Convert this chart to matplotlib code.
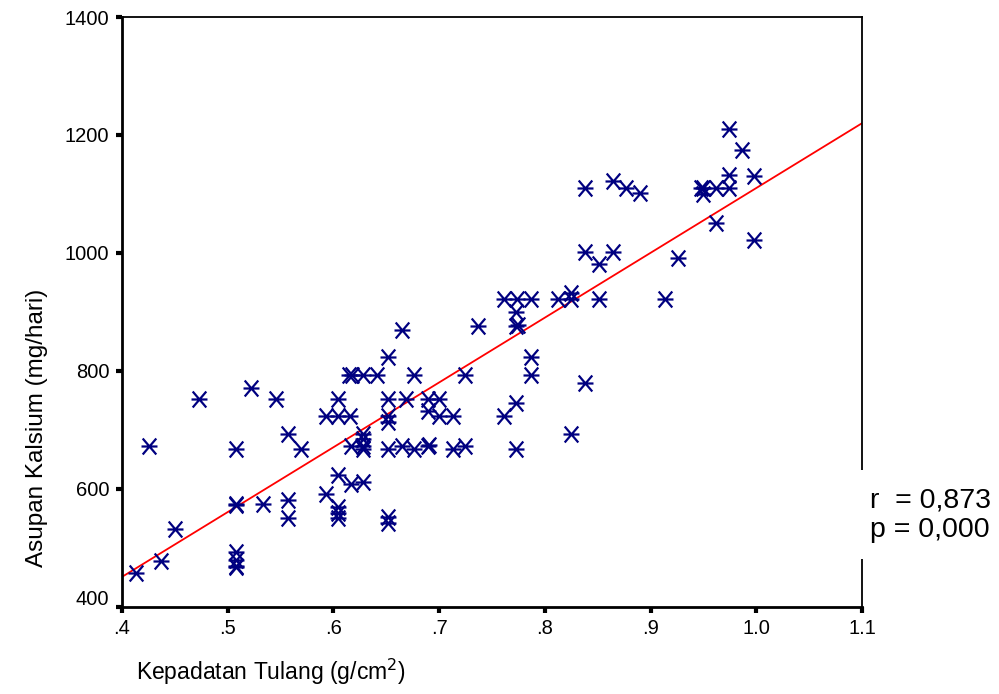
import matplotlib
matplotlib.use("Agg")
import matplotlib.pyplot as plt
from matplotlib.path import Path
from matplotlib.transforms import ScaledTranslation
import numpy as np

plt.rcParams['font.family'] = ['Liberation Sans', 'DejaVu Sans']

# data
bone_density = [
    0.413, 0.426, 0.437, 0.450, 0.473, 0.508, 0.508, 0.508, 0.508, 0.508,
    0.508, 0.508, 0.522, 0.533, 0.546, 0.557, 0.557, 0.557, 0.569, 0.593,
    0.593, 0.604, 0.604, 0.604, 0.604, 0.604, 0.604, 0.616, 0.615, 0.618,
    0.628, 0.641, 0.617, 0.617, 0.628, 0.628, 0.628, 0.628, 0.628, 0.652,
    0.652, 0.652, 0.652, 0.652, 0.652, 0.652, 0.665, 0.676, 0.724, 0.737,
    0.773, 0.773, 0.775, 0.787, 0.787, 0.838, 0.669, 0.689, 0.700, 0.689,
    0.700, 0.713, 0.761, 0.773, 0.665, 0.676, 0.689, 0.690, 0.713, 0.724,
    0.773, 0.825, 0.761, 0.774, 0.787, 0.812, 0.825, 0.825, 0.851, 0.914,
    0.926, 0.838, 0.864, 0.851, 0.838, 0.864, 0.877, 0.890, 0.950, 0.950,
    0.948, 0.962, 0.974, 0.974, 0.974, 0.986, 0.998, 0.962, 0.998,
]
calcium = [
    458, 673, 478, 532, 753, 668, 575, 572, 494, 480,
    470, 467, 771, 575, 753, 694, 582, 550, 667, 592,
    723, 723, 753, 624, 570, 560, 550, 723, 793, 793,
    793, 793, 673, 608, 611, 694, 684, 673, 668, 823,
    753, 723, 714, 668, 553, 542, 870, 793, 793, 876,
    900, 876, 878, 824, 793, 779, 753, 753, 753, 733,
    723, 723, 723, 746, 673, 667, 673, 675, 667, 673,
    667, 693, 922, 922, 922, 922, 922, 932, 922, 922,
    991, 1002, 1002, 982, 1111, 1122, 1111, 1101, 1111, 1100,
    1111, 1111, 1111, 1132, 1210, 1175, 1131, 1051, 1022,
]

# fitted line end points as drawn
fit_x = [0.4, 1.1]
fit_y = [451, 1220]

x_ticks = [0.4, 0.5, 0.6, 0.7, 0.8, 0.9, 1.0, 1.1]
x_tick_labels = ['.4', '.5', '.6', '.7', '.8', '.9', '1.0', '1.1']
y_ticks = [400, 600, 800, 1000, 1200, 1400]

# SPSS style asterisk marker
star = Path(
    [(-1, 0), (1, 0), (-0.85, -1), (0.85, 1), (-0.85, 1), (0.85, -1)],
    [Path.MOVETO, Path.LINETO, Path.MOVETO, Path.LINETO, Path.MOVETO, Path.LINETO],
)

fig = plt.figure(figsize=(9.99, 6.94), dpi=100)
ax = fig.add_axes([0.1221, 0.1254, 0.7408, 0.8501])

ax.plot(fit_x, fit_y, color='#ff0000', lw=1.3, zorder=2)
ax.plot(bone_density, calcium, ls='none', marker=star, markersize=11.5,
        markeredgewidth=1.6, color='#000080', zorder=3)

ax.set_xlim(0.4, 1.1)
ax.set_ylim(400, 1400)
ax.set_xticks(x_ticks)
ax.set_xticklabels(x_tick_labels)
ax.set_yticks(y_ticks)
ax.tick_params(direction='out', length=4, width=3, labelsize=14.5, pad=5)

# lowest y label sits a little above its tick
lbl = ax.get_yticklabels()[0]
lbl.set_transform(lbl.get_transform() + ScaledTranslation(0, 0.09, fig.dpi_scale_trans))

for side in ['left', 'bottom']:
    ax.spines[side].set_linewidth(2)
for side in ['top', 'right']:
    ax.spines[side].set_linewidth(1.3)

ax.set_xlabel('Kepadatan Tulang (g/cm$^2$)', fontsize=16.5)
ax.xaxis.set_label_coords(0.201, -0.085)
ax.set_ylabel('Asupan Kalsium (mg/hari)', fontsize=17.5)
ax.yaxis.set_label_coords(-0.1, 0.303)

fig.text(0.871, 0.258, 'r  = 0,873\np = 0,000', fontsize=20.5, va='center',
         ha='left', linespacing=1.17,
         bbox=dict(facecolor='white', edgecolor='none', pad=12))

fig.savefig('out.png', dpi=100)
